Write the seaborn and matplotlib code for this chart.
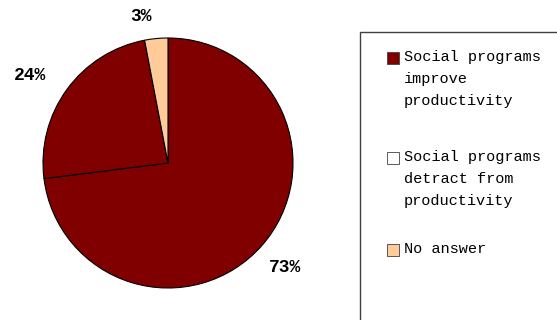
import matplotlib
matplotlib.use("Agg")
import matplotlib.pyplot as plt
import seaborn as sns
from matplotlib.patches import Rectangle

# data
categories = ["Social programs\nimprove\nproductivity",
              "Social programs\ndetract from\nproductivity",
              "No answer"]
shares = [73, 24, 3]
slice_colors = ["#800000", "#800000", "#FFCC99"]
legend_colors = ["#800000", "#FFFFFF", "#FFCC99"]

sns.set_style("white")
plt.rcParams['font.family'] = ['Liberation Mono', 'DejaVu Sans']

W, H = 557, 320
fig = plt.figure(figsize=(W / 100, H / 100), dpi=100)
fig.set_facecolor("white")

# pie axes: centre (168, 163) px, radius 125 px
cx, cy, r = 168, 163, 125
ax = fig.add_axes([(cx - r) / W, (H - cy - r) / H, 2 * r / W, 2 * r / H])
wedges, _, autotexts = ax.pie(shares, colors=slice_colors, startangle=90, counterclock=False,
                              autopct=lambda p: f"{p:.0f}%", pctdistance=1.22,
                              wedgeprops={"edgecolor": "black", "linewidth": 0.8},
                              textprops={"fontsize": 13, "fontweight": "bold", "color": "black"})
# nudge labels like the original layout
nudges = [(0.02, -0.03), (-0.12, -0.02), (-0.1, -0.04)]
for t, (dx, dy) in zip(autotexts, nudges):
    x, y = t.get_position()
    t.set_position((x + dx, y + dy))
ax.set_xlim(-1, 1)
ax.set_ylim(-1, 1)
ax.set_aspect("auto")
ax.axis("off")

# legend frame (runs off the canvas on the right and bottom)
fig.patches.append(Rectangle((360 / W, -0.1), 1.0, (H - 32) / H + 0.1,
                             transform=fig.transFigure, facecolor="none",
                             edgecolor="#404040", linewidth=1.0))

# legend entries
entry_y = [58, 158, 250]
for label, col, y in zip(categories, legend_colors, entry_y):
    s = 12
    fig.patches.append(Rectangle((387 / W, (H - y - s / 2) / H), s / W, s / H,
                                 transform=fig.transFigure, facecolor=col,
                                 edgecolor="#404040", linewidth=0.6))
    fig.text(404 / W, (H - y + 8) / H, label, fontsize=11, va="top", ha="left",
             linespacing=1.75, color="black")

fig.savefig("out.png", dpi=100, facecolor="white")
